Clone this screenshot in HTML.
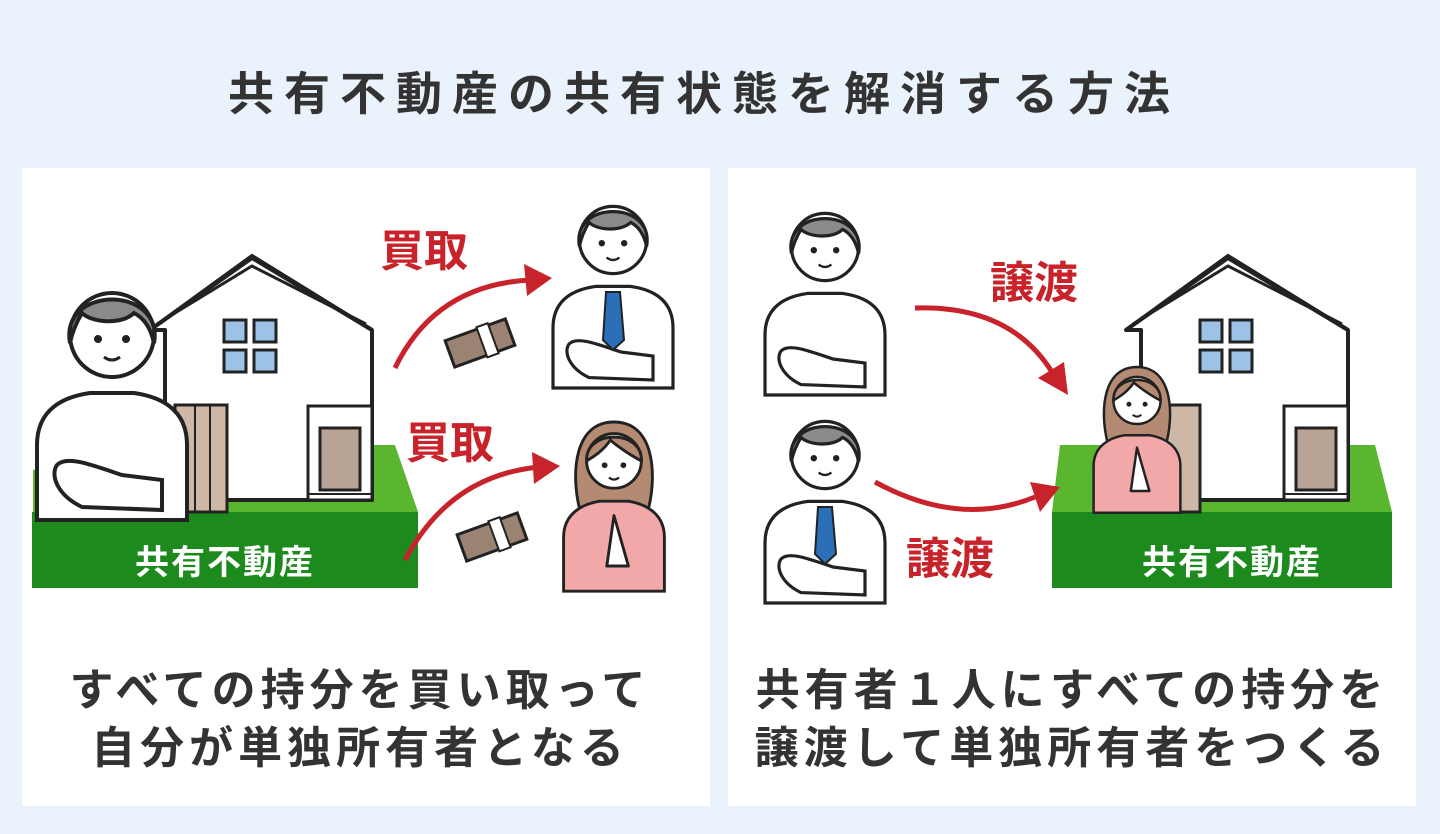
<!DOCTYPE html>
<html><head><meta charset="utf-8"><style>
html,body{margin:0;padding:0;background:#eaf3fb;}
svg{display:block;}
text{font-family:"Liberation Sans","Noto Sans CJK JP",sans-serif;}
</style></head><body>
<svg width="1440" height="834" viewBox="0 0 1440 834" xmlns="http://www.w3.org/2000/svg">
<defs>
<g id="house">
 <polygon points="-102,72 0,0 120,72 120,242 -87,242 -87,72" fill="#fff" stroke="#222" stroke-width="4" stroke-linejoin="round"/>
 <polyline points="-102,72 0,-2 120,72" fill="none" stroke="#222" stroke-width="4"/>
 <polyline points="-95,66 0,8 114,66" fill="none" stroke="#222" stroke-width="3"/>
 <g fill="#9cc3e6" stroke="#222" stroke-width="3">
  <rect x="-28" y="62" width="22" height="22"/><rect x="2" y="62" width="22" height="22"/>
  <rect x="-28" y="92" width="22" height="22"/><rect x="2" y="92" width="22" height="22"/>
 </g>
 <rect x="56" y="148" width="64" height="94" fill="#fff" stroke="#222" stroke-width="3"/>
 <rect x="68" y="170" width="40" height="62" fill="#b9a394" stroke="#222" stroke-width="3"/>
 <line x1="56" y1="236" x2="120" y2="236" stroke="#222" stroke-width="2"/>
</g>
<g id="man">
 <path d="M-75,185 L-75,110 C-75,75 -50,62 -22,58 L22,58 C50,62 75,75 75,110 L75,185 Z" fill="#fff" stroke="#222" stroke-width="4"/>
 <circle cx="0" cy="0" r="42" fill="#fff" stroke="#222" stroke-width="4"/>
 <path d="M-42,8 C-52,-50 52,-50 42,8 C38,-10 30,-18 22,-22 C10,-10 -20,-12 -30,-22 C-36,-12 -40,-2 -42,8 Z" fill="#8a8a8a" stroke="#222" stroke-width="4"/>
 <circle cx="-14" cy="4" r="4" fill="#222"/><circle cx="14" cy="4" r="4" fill="#222"/>
 <path d="M-8,22 Q0,28 8,22" fill="none" stroke="#222" stroke-width="3"/>
 <path d="M-55,130 C-45,120 -20,130 10,140 L50,145 L50,175 L-30,172 C-55,160 -62,140 -55,130 Z" fill="#fff" stroke="#222" stroke-width="4"/>
</g>
<g id="woman">
 <path d="M-48,70 C-60,20 -55,-50 0,-50 C55,-50 60,20 48,70 Z" fill="#b48a72" stroke="#222" stroke-width="4"/>
 <path d="M-70,185 L-70,110 C-70,78 -45,64 -20,60 L20,60 C45,64 70,78 70,110 L70,185 Z" fill="#f2a8a8" stroke="#222" stroke-width="4"/>
 <circle cx="0" cy="4" r="38" fill="#fff" stroke="#222" stroke-width="4"/>
 <path d="M-38,4 C-40,-40 40,-40 38,4 C20,-5 0,-20 -5,-25 C-15,-10 -28,-2 -38,4 Z" fill="#b48a72" stroke="#222" stroke-width="4"/>
 <circle cx="-13" cy="10" r="4" fill="#222"/><circle cx="13" cy="10" r="4" fill="#222"/>
 <path d="M-7,27 Q0,33 7,27" fill="none" stroke="#222" stroke-width="3"/>
 <path d="M0,80 L20,150 L-10,150 Z" fill="#fff" stroke="#222" stroke-width="4" stroke-linejoin="round"/>
</g>
<g id="money">
 <rect x="-32" y="-14" width="64" height="28" fill="#9b8373" stroke="#222" stroke-width="3" transform="rotate(-20)"/>
 <rect x="2" y="-16" width="12" height="32" fill="#fff" stroke="#222" stroke-width="2" transform="rotate(-20)"/>
</g>
</defs>

<text x="704" y="110" font-size="46" font-weight="bold" fill="#333" text-anchor="middle" letter-spacing="10">共有不動産の共有状態を解消する方法</text>

<rect x="22" y="168" width="688" height="638" fill="#fff"/>
<rect x="728" y="168" width="688" height="638" fill="#fff"/>

<!-- LEFT -->
<polygon points="33,512 418,512 395,445 180,445 33,470" fill="#5ab52f"/>
<rect x="32" y="512" width="386" height="76" fill="#1d8a1d"/>
<use href="#house" x="252" y="258"/>
<rect x="175" y="405" width="52" height="107" fill="#cdb8a8" stroke="#222" stroke-width="3"/>
<line x1="195" y1="405" x2="195" y2="512" stroke="#222" stroke-width="2"/>
<line x1="210" y1="405" x2="210" y2="512" stroke="#222" stroke-width="2"/>
<g transform="translate(112,335)"><use href="#man"/></g>
<text x="225" y="574" font-size="34" font-weight="bold" fill="#fff" text-anchor="middle" letter-spacing="2">共有不動産</text>

<text x="380" y="266" font-size="44" font-weight="bold" fill="#c8232b">買取</text>
<text x="406" y="458" font-size="44" font-weight="bold" fill="#c8232b">買取</text>
<path d="M395,368 Q435,285 530,280" fill="none" stroke="#c8232b" stroke-width="5"/>
<polygon points="552,278 524,264 527,296" fill="#c8232b"/>
<path d="M405,560 Q450,475 540,467" fill="none" stroke="#c8232b" stroke-width="5"/>
<polygon points="560,466 532,452 534,484" fill="#c8232b"/>
<use href="#money" x="480" y="343"/>
<use href="#money" x="492" y="537"/>

<g transform="translate(613,240) scale(0.8)"><use href="#man"/></g>
<polygon points="606,292 620,292 624,340 613,350 603,340" fill="#2a6fb8" stroke="#222" stroke-width="2"/>
<g transform="translate(614,458) scale(0.72)"><use href="#woman"/></g>

<!-- RIGHT -->
<polygon points="1052,512 1392,512 1375,445 1060,445" fill="#5ab52f"/>
<rect x="1052" y="512" width="340" height="76" fill="#1d8a1d"/>
<use href="#house" x="1228" y="258"/>
<rect x="1160" y="405" width="40" height="107" fill="#cdb8a8" stroke="#222" stroke-width="3"/>
<g transform="translate(1137,398) scale(0.62)"><use href="#woman"/></g>
<text x="1232" y="574" font-size="34" font-weight="bold" fill="#fff" text-anchor="middle" letter-spacing="2">共有不動産</text>

<g transform="translate(825,247) scale(0.8)"><use href="#man"/></g>
<g transform="translate(825,455) scale(0.8)"><use href="#man"/></g>
<polygon points="818,507 832,507 836,554 825,564 815,554" fill="#2a6fb8" stroke="#222" stroke-width="2"/>

<text x="990" y="298" font-size="44" font-weight="bold" fill="#c8232b">譲渡</text>
<text x="906" y="574" font-size="44" font-weight="bold" fill="#c8232b">譲渡</text>
<path d="M915,308 Q1010,305 1052,372" fill="none" stroke="#c8232b" stroke-width="5"/>
<polygon points="1068,395 1038,378 1064,362" fill="#c8232b"/>
<path d="M875,482 Q960,528 1035,497" fill="none" stroke="#c8232b" stroke-width="5"/>
<polygon points="1060,487 1030,482 1040,512" fill="#c8232b"/>

<g font-size="44" font-weight="bold" fill="#333" text-anchor="middle" letter-spacing="5">
<text x="360" y="705">すべての持分を買い取って</text>
<text x="360" y="763">自分が単独所有者となる</text>
<text x="1072" y="705">共有者１人にすべての持分を</text>
<text x="1072" y="763">譲渡して単独所有者をつくる</text>
</g>
</svg>
</body></html>
